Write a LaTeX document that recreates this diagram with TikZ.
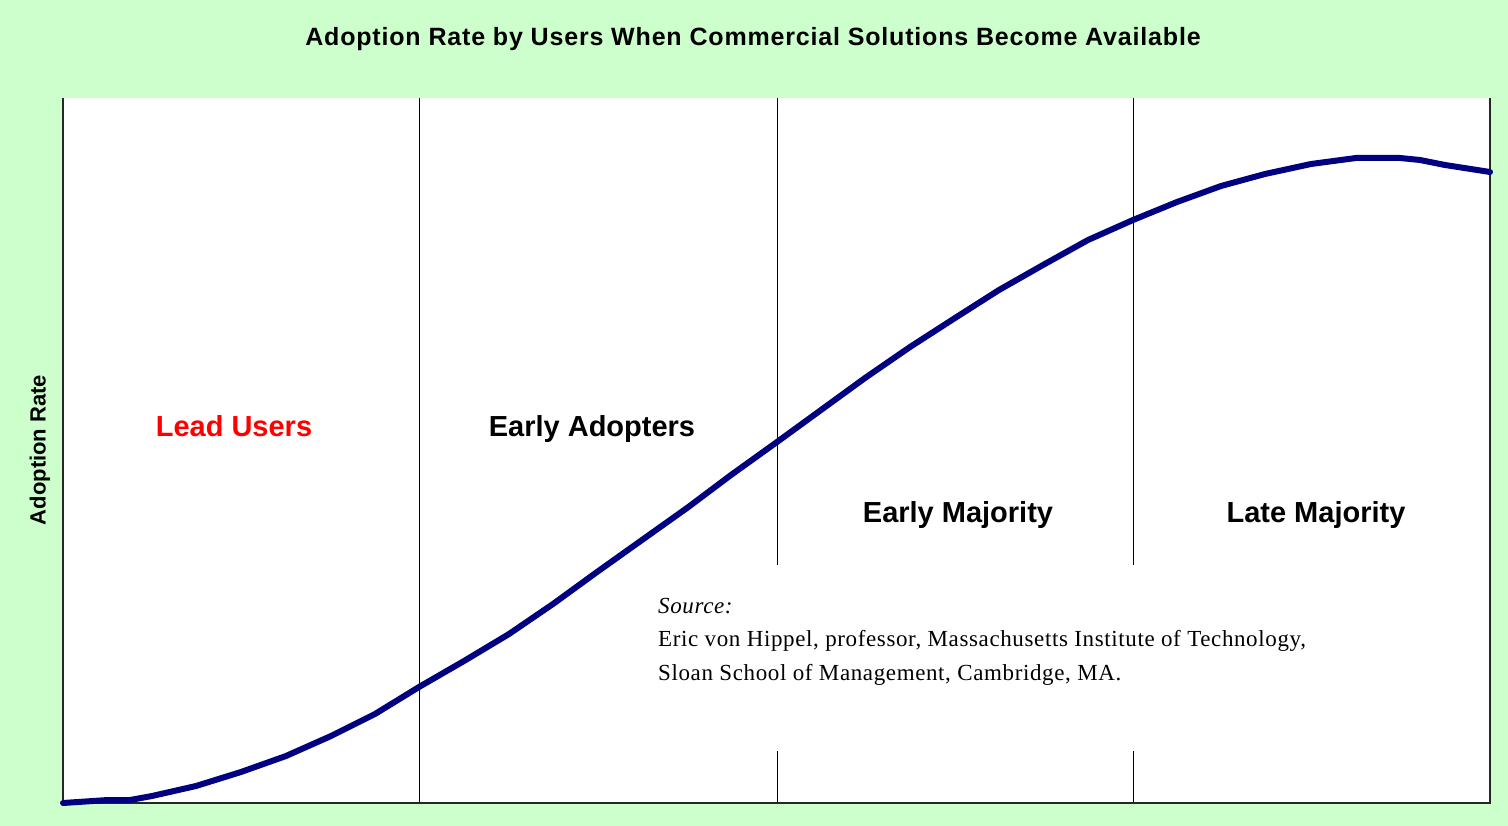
\documentclass[tikz,border=0pt]{standalone}
\usepackage{fontspec}
\setmainfont{Liberation Serif}
\setsansfont{Liberation Sans}
\definecolor{bgcol}{HTML}{CCFFCC}
\definecolor{curvecol}{HTML}{000080}
\definecolor{leadred}{HTML}{FF0000}
\begin{document}
\begin{tikzpicture}[x=1pt,y=-1pt,
  zonelabel/.style={font=\sffamily\bfseries\fontsize{29}{32}\selectfont, inner sep=0pt, anchor=base},
  titlelabel/.style={font=\sffamily\bfseries\fontsize{25}{28}\selectfont\addfontfeature{LetterSpace=3.3}, inner sep=0pt, anchor=base},
  axislabel/.style={font=\sffamily\bfseries\fontsize{22}{24}\selectfont, inner sep=0pt, rotate=90},
  sourcetext/.style={font=\fontsize{23}{26}\selectfont\addfontfeature{LetterSpace=2.7}, inner sep=0pt, anchor=base west},
  divider/.style={line width=1pt, black},
  axisline/.style={line width=1.3pt, black!85},
  adoption/.style={line width=6pt, curvecol, line join=round, line cap=round}]
\fill[bgcol] (0,0) rectangle (1508,826);
\useasboundingbox (0,0) rectangle (1508,826);
\fill[white] (63,98) rectangle (1490,803);

% dividers
\draw[divider] (419,98) -- (419,803);
\draw[divider] (777,98) -- (777,565);
\draw[divider] (777,751) -- (777,803);
\draw[divider] (1133,98) -- (1133,565);
\draw[divider] (1133,751) -- (1133,803);

% axes
\draw[axisline] (63,98) -- (63,803) -- (1490,803) -- (1490,98);

% curve
\draw[adoption] plot coordinates {(63,803) (108,800) (130,800) (152,796) (196,786) (241,772) (286,756) (331,736) (375,714) (419,687) (464,661) (509,634) (553,604) (597,572) (642,540) (687,508) (731,475) (777,442) (821,410) (865,378) (910,347) (955,318) (999,290) (1043,265) (1088,240) (1133,220) (1177,202) (1221,186) (1265,174) (1311,164) (1356,158) (1400,158) (1420,160) (1445,165) (1490,172)};

% texts
\node[titlelabel] (title) at (753,46) {Adoption Rate by Users When Commercial Solutions Become Available};
\node[axislabel] (ylab) at (40,450) {Adoption Rate};
\node[zonelabel, text=leadred] (lead) at (234,436) {Lead Users};
\node[zonelabel] (early) at (592,436) {Early Adopters};
\node[zonelabel] (emaj) at (958,522) {Early Majority};
\node[zonelabel] (lmaj) at (1316,522) {Late Majority};
\node[sourcetext] (src1) at (658,613) {\itshape Source:};
\node[sourcetext] (src2) at (658,646) {Eric von Hippel, professor, Massachusetts Institute of Technology,};
\node[sourcetext] (src3) at (658,680) {Sloan School of Management, Cambridge, MA.};
\end{tikzpicture}
\end{document}
